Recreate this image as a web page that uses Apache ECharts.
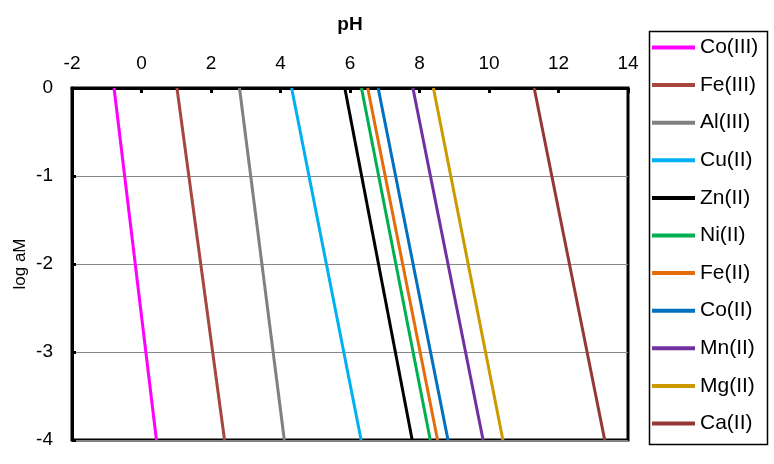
<!DOCTYPE html>
<html>
<head>
<meta charset="utf-8">
<script src="https://cdn.jsdelivr.net/npm/echarts@6/dist/echarts.min.js"></script>
<style>
  html, body { margin: 0; padding: 0; background: #fff; }
  #chart { width: 774px; height: 464px; }
</style>
</head>
<body>
<div id="chart"></div>
<script>
// 金属离子名称
var ions = ['Co(III)', 'Fe(III)', 'Al(III)', 'Cu(II)', 'Zn(II)', 'Ni(II)', 'Fe(II)', 'Co(II)', 'Mn(II)', 'Mg(II)', 'Ca(II)'];
var colors = ['#FF00FF', '#A5473F', '#808080', '#00B0F0', '#000000', '#00B050', '#E46C0A', '#0070C0', '#7030A0', '#CC9900', '#953735'];
// log aM 两端
var logA = [0, -4];
// 对应 pH (log aM = 0 / -4)
var phTop = [-0.79, 1.02, 2.82, 4.32, 5.85, 6.33, 6.51, 6.81, 7.81, 8.40, 11.30];
var phBottom = [0.43, 2.39, 4.11, 6.32, 7.79, 8.31, 8.52, 8.82, 9.83, 10.40, 13.33];

var font = 'Liberation Sans, Arial, sans-serif';

var series = ions.map(function(name, i){
    return {
        name: name,
        type: 'line',
        symbol: 'none',
        silent: true,
        lineStyle: { color: colors[i], width: 3 },
        itemStyle: { color: colors[i] },
        data: [[phTop[i], logA[0]], [phBottom[i], logA[1]]]
    };
});

var myChart = echarts.init(document.getElementById('chart'));
var option = {
    animation: false,
    // 图例外框
    graphic: [{
        type: 'rect',
        left: 647, top: 29,
        shape: { width: 118, height: 413 },
        style: { fill: 'none', stroke: '#000', lineWidth: 1.5 },
        silent: true
    }],
    grid: {
        left: 72, right: 146, top: 88, bottom: 24,
        show: true,
        borderColor: '#000',
        borderWidth: 3
    },
    legend: {
        orient: 'vertical',
        left: 652,
        top: 37,
        data: ions,
        icon: 'rect',
        itemWidth: 43,
        itemHeight: 4,
        itemGap: 16.6,
        padding: 0,
        textStyle: { fontFamily: font, fontSize: 21, color: '#000' }
    },
    xAxis: {
        type: 'value',
        position: 'top',
        min: -2,
        max: 14,
        interval: 2,
        name: 'pH',
        nameLocation: 'middle',
        nameGap: 54,
        nameMoveOverlap: false,
        nameTextStyle: { fontFamily: font, fontSize: 19, fontWeight: 'bold', color: '#000' },
        axisLine: { show: true, onZero: false, lineStyle: { color: '#000', width: 3 } },
        axisTick: { show: true, inside: true, length: 5, lineStyle: { color: '#000', width: 3 } },
        axisLabel: { fontFamily: font, fontSize: 19, color: '#000', margin: 15 },
        splitLine: { show: false }
    },
    yAxis: {
        type: 'value',
        min: -4,
        max: 0,
        interval: 1,
        name: 'log aM',
        nameLocation: 'middle',
        nameGap: 43,
        nameMoveOverlap: false,
        nameRotate: 90,
        nameTextStyle: { fontFamily: font, fontSize: 17, color: '#000' },
        axisLine: { show: true, onZero: false, lineStyle: { color: '#000', width: 3 } },
        axisTick: { show: true, inside: true, length: 4, lineStyle: { color: '#000', width: 3 } },
        axisLabel: { fontFamily: font, fontSize: 19, color: '#000', margin: 19 },
        splitLine: { show: true, lineStyle: { color: '#888', width: 1 } }
    },
    series: series
};
myChart.setOption(option);
</script>
</body>
</html>
